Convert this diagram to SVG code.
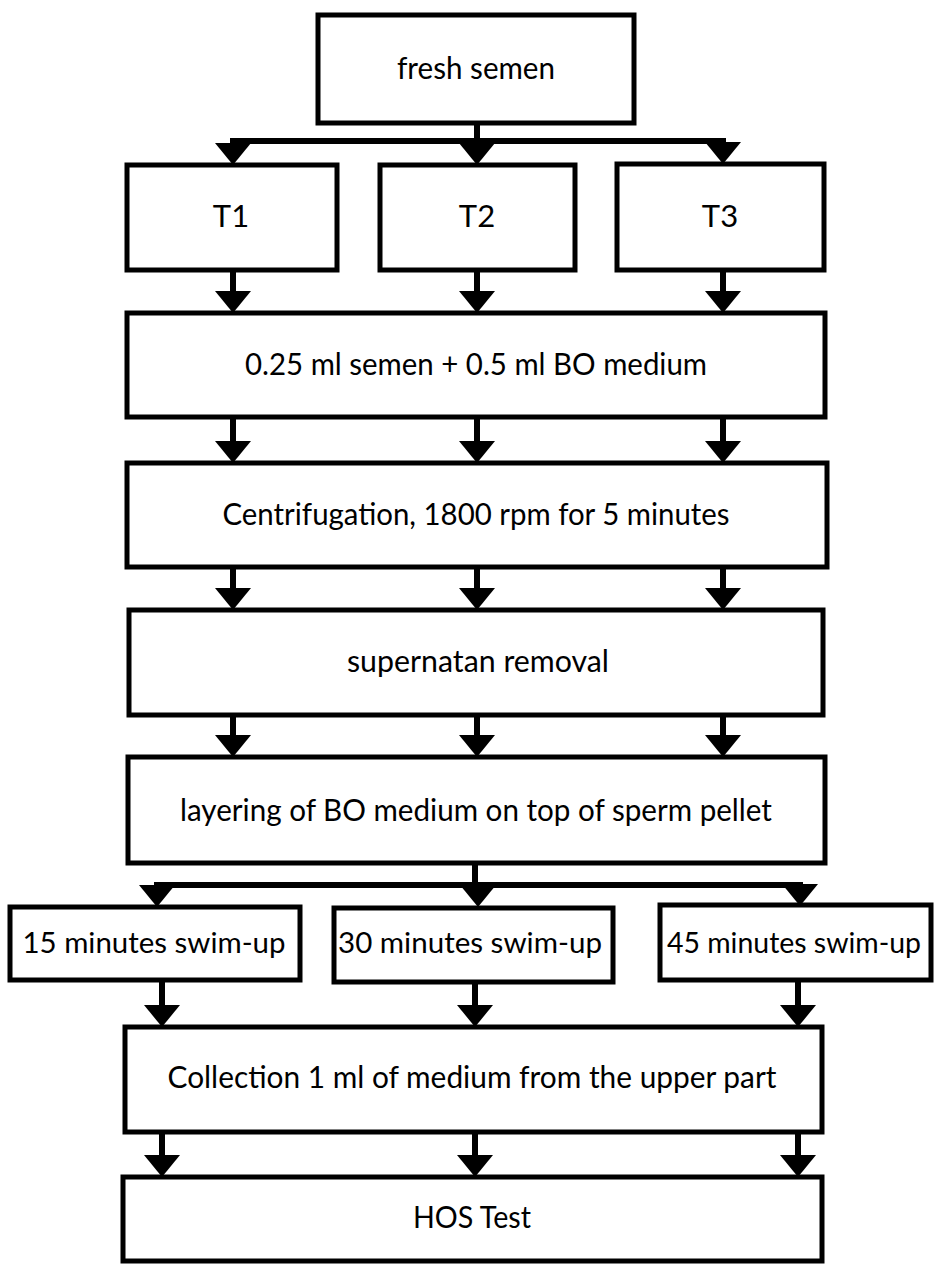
<svg xmlns="http://www.w3.org/2000/svg" xmlns:xlink="http://www.w3.org/1999/xlink" width="936" height="1264" viewBox="0 0 936 1264">
<style>
  .box { fill: #ffffff; stroke: #000000; stroke-width: 5; }
  .lbl { font-family: Lato, "Liberation Sans", sans-serif; font-size: 31px; fill: #000000; text-anchor: middle; }
  .sm { font-size: 29px; }
  .con { fill: none; stroke: #000000; stroke-width: 6; }
  .head { fill: #000000; }
</style>
<defs>
  <path id="ah" d="M-18,-22 L18,-22 L0,0 Z"/>
</defs>
<rect width="936" height="1264" fill="#ffffff"/>

<g id="connectors">
  <!-- fresh semen split -->
  <path class="con" d="M477,123 V143"/>
  <path class="con" d="M233,146 V141 H723 V146"/>
  <use class="head" xlink:href="#ah" href="#ah" x="233" y="165"/>
  <use class="head" xlink:href="#ah" href="#ah" x="477" y="165"/>
  <use class="head" xlink:href="#ah" href="#ah" x="723" y="164"/>
  <!-- T -> 0.25 -->
  <path class="con" d="M233,270 V292 M477,270 V292 M723,270 V292"/>
  <use class="head" xlink:href="#ah" href="#ah" x="233" y="313"/>
  <use class="head" xlink:href="#ah" href="#ah" x="477" y="313"/>
  <use class="head" xlink:href="#ah" href="#ah" x="723" y="313"/>
  <!-- 0.25 -> centrifugation -->
  <path class="con" d="M233,417 V442 M477,417 V442 M723,417 V442"/>
  <use class="head" xlink:href="#ah" href="#ah" x="233" y="463"/>
  <use class="head" xlink:href="#ah" href="#ah" x="477" y="463"/>
  <use class="head" xlink:href="#ah" href="#ah" x="723" y="463"/>
  <!-- centrifugation -> supernatan -->
  <path class="con" d="M233,567 V589 M477,567 V589 M723,567 V589"/>
  <use class="head" xlink:href="#ah" href="#ah" x="233" y="610"/>
  <use class="head" xlink:href="#ah" href="#ah" x="477" y="610"/>
  <use class="head" xlink:href="#ah" href="#ah" x="723" y="610"/>
  <!-- supernatan -> layering -->
  <path class="con" d="M233,715 V736 M477,715 V736 M723,715 V736"/>
  <use class="head" xlink:href="#ah" href="#ah" x="233" y="757"/>
  <use class="head" xlink:href="#ah" href="#ah" x="477" y="757"/>
  <use class="head" xlink:href="#ah" href="#ah" x="723" y="757"/>
  <!-- layering split -->
  <path class="con" d="M475,863 V886"/>
  <path class="con" d="M157,890 V885 H800 V890"/>
  <use class="head" xlink:href="#ah" href="#ah" x="157" y="907"/>
  <use class="head" xlink:href="#ah" href="#ah" x="478" y="907"/>
  <use class="head" xlink:href="#ah" href="#ah" x="800" y="906"/>
  <!-- swim-up -> collection -->
  <path class="con" d="M162,980 V1006 M475,981 V1006 M798,980 V1006"/>
  <use class="head" xlink:href="#ah" href="#ah" x="162" y="1027"/>
  <use class="head" xlink:href="#ah" href="#ah" x="475" y="1027"/>
  <use class="head" xlink:href="#ah" href="#ah" x="798" y="1027"/>
  <!-- collection -> HOS -->
  <path class="con" d="M162,1132 V1156 M475,1132 V1156 M798,1132 V1156"/>
  <use class="head" xlink:href="#ah" href="#ah" x="162" y="1177"/>
  <use class="head" xlink:href="#ah" href="#ah" x="475" y="1177"/>
  <use class="head" xlink:href="#ah" href="#ah" x="798" y="1177"/>
</g>

<g id="fresh-semen">
  <rect class="box" x="318" y="15" width="316" height="108"/>
  <text class="lbl" x="476" y="79" textLength="158" lengthAdjust="spacingAndGlyphs">fresh semen</text>
</g>
<g id="t1">
  <rect class="box" x="127" y="165" width="210" height="105"/>
  <text class="lbl" x="231" y="227">T1</text>
</g>
<g id="t2">
  <rect class="box" x="380" y="165" width="195" height="105"/>
  <text class="lbl" x="477" y="227">T2</text>
</g>
<g id="t3">
  <rect class="box" x="617" y="164" width="207" height="106"/>
  <text class="lbl" x="720" y="227">T3</text>
</g>
<g id="dilution">
  <rect class="box" x="127" y="313" width="698" height="104"/>
  <text class="lbl" x="476" y="375" textLength="462" lengthAdjust="spacingAndGlyphs">0.25 ml semen + 0.5 ml BO medium</text>
</g>
<g id="centrifugation">
  <rect class="box" x="127" y="463" width="700" height="104"/>
  <text class="lbl" x="476" y="525" textLength="507" lengthAdjust="spacingAndGlyphs">Centrifugation, 1800 rpm for 5 minutes</text>
</g>
<g id="supernatan">
  <rect class="box" x="129" y="610" width="694" height="105"/>
  <text class="lbl" x="478" y="672" textLength="262" lengthAdjust="spacingAndGlyphs">supernatan removal</text>
</g>
<g id="layering">
  <rect class="box" x="128" y="757" width="697" height="106"/>
  <text class="lbl" x="476" y="821" textLength="592" lengthAdjust="spacingAndGlyphs">layering of BO medium on top of sperm pellet</text>
</g>
<g id="swim15">
  <rect class="box" x="10" y="907" width="290" height="73"/>
  <text class="lbl sm" x="154" y="953" textLength="263" lengthAdjust="spacingAndGlyphs">15 minutes swim-up</text>
</g>
<g id="swim30">
  <rect class="box" x="334" y="908" width="279" height="74"/>
  <text class="lbl sm" x="470" y="953" textLength="264" lengthAdjust="spacingAndGlyphs">30 minutes swim-up</text>
</g>
<g id="swim45">
  <rect class="box" x="660" y="905" width="271" height="75"/>
  <text class="lbl sm" x="794" y="953" textLength="254" lengthAdjust="spacingAndGlyphs">45 minutes swim-up</text>
</g>
<g id="collection">
  <rect class="box" x="125" y="1027" width="697" height="105"/>
  <text class="lbl" x="472" y="1088" textLength="609" lengthAdjust="spacingAndGlyphs">Collection 1 ml of medium from the upper part</text>
</g>
<g id="hos">
  <rect class="box" x="123" y="1177" width="699" height="84"/>
  <text class="lbl" x="472" y="1228" textLength="118" lengthAdjust="spacingAndGlyphs">HOS Test</text>
</g>
</svg>
